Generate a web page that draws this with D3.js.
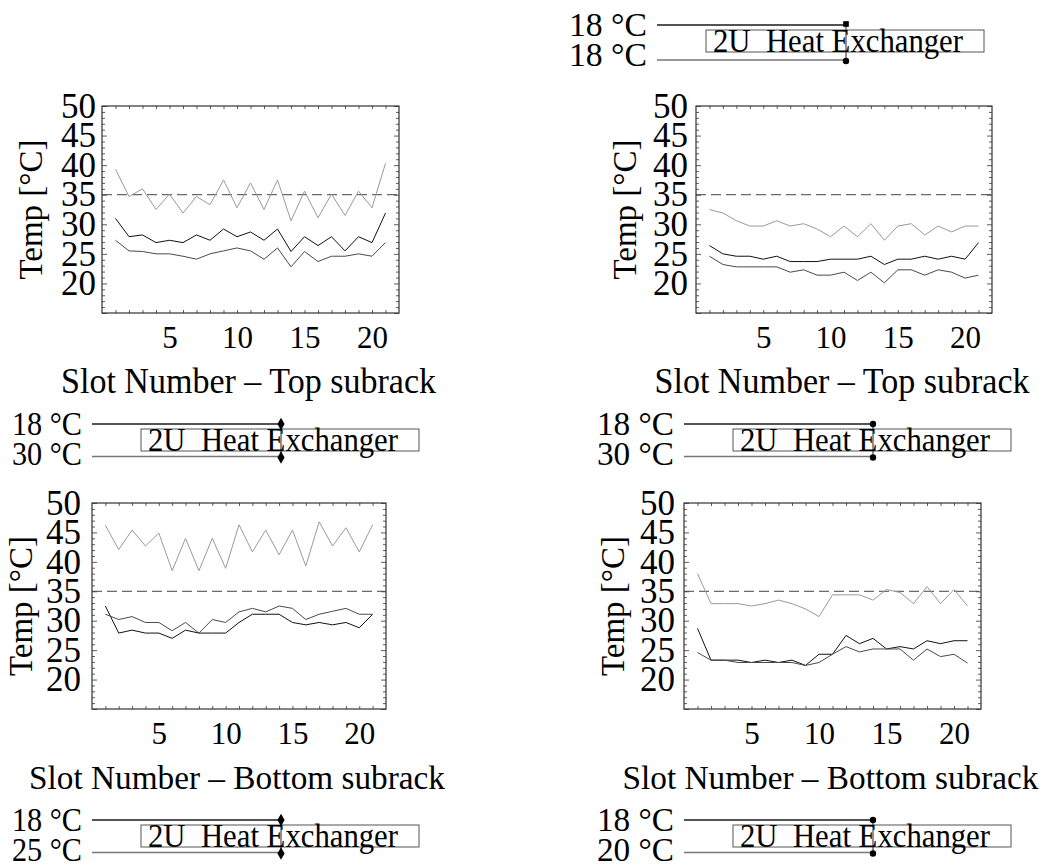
<!DOCTYPE html>
<html>
<head>
<meta charset="utf-8">
<script src="https://cdn.jsdelivr.net/npm/d3@7"></script>
<style>
  html, body { margin: 0; padding: 0; background: #fff; }
  svg { display: block; }
  text { font-family: "Liberation Serif", "DejaVu Serif", serif; fill: #000; }
</style>
</head>
<body>
<div id="chart"></div>
<script>
// slot numbers and axis ticks
const slots = d3.range(1, 22);
const yTickLabels = [20, 25, 30, 35, 40, 45, 50];
const xTickLabels = [5, 10, 15, 20];
const limitTemp = 35;

// top subrack, 18/30 °C
const tlGray  = [39.3, 34.7, 36.0, 32.5, 35.1, 31.9, 34.7, 33.3, 37.5, 32.8, 37.0, 32.5, 37.5, 30.6, 35.6, 31.1, 35.1, 31.5, 35.6, 32.8, 40.3];
const tlBlack = [31.0, 27.9, 28.2, 26.9, 27.3, 26.9, 28.2, 27.3, 29.2, 27.9, 28.7, 27.3, 29.2, 25.4, 27.9, 26.4, 27.9, 25.5, 27.9, 26.9, 31.9];
const tlDark  = [27.3, 25.5, 25.4, 25.0, 25.0, 24.6, 24.1, 25.0, 25.5, 26.0, 25.5, 24.1, 26.0, 22.8, 25.4, 23.7, 24.6, 24.6, 25.0, 24.6, 26.9];

// top subrack, 18/18 °C
const trGray  = [32.5, 31.9, 30.6, 29.7, 29.7, 30.6, 29.7, 30.1, 29.2, 27.9, 29.7, 27.9, 30.1, 27.3, 29.7, 30.1, 28.2, 29.7, 28.7, 29.7, 29.7];
const trBlack = [26.4, 25.0, 24.6, 24.6, 24.1, 24.6, 23.7, 23.7, 23.7, 24.1, 24.1, 24.1, 24.6, 23.2, 24.1, 24.1, 24.6, 24.1, 24.6, 24.1, 26.9];
const trDark  = [24.6, 23.2, 22.8, 22.8, 22.8, 22.8, 21.9, 22.3, 21.4, 21.4, 21.9, 20.5, 21.9, 20.1, 22.3, 22.3, 21.4, 22.3, 21.9, 20.9, 21.4];

// bottom subrack, 18/30 °C
const blGray  = [46.2, 42.1, 45.4, 42.7, 44.9, 38.5, 44.0, 38.5, 44.0, 38.9, 46.3, 41.7, 45.4, 41.2, 45.4, 39.3, 46.8, 42.7, 45.8, 41.7, 46.3];
const blBlack = [32.5, 27.9, 28.4, 27.9, 27.9, 27.0, 28.4, 27.9, 27.9, 27.9, 29.7, 31.1, 31.1, 31.1, 29.7, 29.3, 29.7, 29.3, 29.7, 28.8, 31.1];
const blDark  = [31.1, 30.2, 30.7, 29.7, 29.7, 28.3, 29.7, 27.9, 30.2, 29.7, 31.5, 32.1, 31.5, 32.5, 32.1, 30.2, 31.1, 31.6, 32.1, 31.1, 31.1];

// bottom subrack, 18/30 °C (right)
const brGray  = [38.0, 32.9, 32.9, 32.9, 32.5, 32.9, 33.5, 32.9, 32.0, 30.7, 34.4, 34.4, 34.4, 33.5, 35.3, 34.8, 32.9, 35.8, 32.9, 35.3, 32.5];
const brBlack = [28.7, 23.3, 23.3, 23.3, 22.9, 23.3, 22.9, 23.3, 22.4, 24.3, 24.3, 27.5, 26.1, 27.0, 25.2, 25.6, 25.2, 26.6, 26.1, 26.6, 26.6];
const brDark  = [24.6, 23.3, 23.3, 22.9, 22.9, 22.9, 22.9, 22.9, 22.4, 22.9, 24.3, 25.6, 24.7, 25.2, 25.2, 25.2, 23.3, 25.2, 23.9, 24.3, 22.8];

// heat exchanger inlet temperatures
const hxTopTemps    = ['18 °C', '18 °C', '18 °C', '18 °C', '18 °C'];
const hxBottomTemps = ['18 °C', '30 °C', '30 °C', '25 °C', '20 °C'];
const hxLabel = '2U  Heat Exchanger';

const seriesColors = ['#9a9a9a', '#111111', '#4a4a4a'];

const W = 1053, H = 867;
const svg = d3.select('#chart').append('svg')
    .attr('width', W)
    .attr('height', H);

const panels = [
    { left: 102, right: 399, top: 106, bottom: 313, pad: 6,  xLabel: 'Slot Number – Top subrack',    labelLen: 375, labelSize: 36, series: [tlGray, tlBlack, tlDark] },
    { left: 696, right: 992, top: 106, bottom: 313, pad: 8,  xLabel: 'Slot Number – Top subrack',    labelLen: 375, labelSize: 36, series: [trGray, trBlack, trDark] },
    { left: 92,  right: 386, top: 503, bottom: 709, pad: 11, xLabel: 'Slot Number – Bottom subrack', labelLen: 416, labelSize: 34, series: [blGray, blBlack, blDark] },
    { left: 684, right: 981, top: 503, bottom: 709, pad: 9,  xLabel: 'Slot Number – Bottom subrack', labelLen: 416, labelSize: 34, series: [brGray, brBlack, brDark] }
];

panels.forEach(p => drawPanel(p));

function drawPanel(p) {
    const x = d3.scaleLinear().domain([0, 22]).range([p.left, p.right]);
    const y = d3.scaleLinear().domain([15, 50]).range([p.bottom, p.top]);
    const g = svg.append('g');

    const yMinor = d3.range(15, 51);
    const tickLen = d => (d % 5 === 0 ? 5 : 3);

    // left axis with labels
    const gl = g.append('g')
        .attr('transform', `translate(${p.left},0)`)
        .call(d3.axisLeft(y).tickValues(yMinor).tickSizeInner(-3).tickSizeOuter(0)
            .tickPadding(p.pad)
            .tickFormat(d => (yTickLabels.includes(d) ? d : '')));
    gl.selectAll('line').attr('x2', d => tickLen(d));

    // right axis (ticks only)
    const gr = g.append('g')
        .attr('transform', `translate(${p.right},0)`)
        .call(d3.axisRight(y).tickValues(yMinor).tickSizeInner(-3).tickSizeOuter(0).tickFormat(''));
    gr.selectAll('line').attr('x2', d => -tickLen(d));

    // bottom axis with labels
    g.append('g')
        .attr('class', 'xaxis')
        .attr('transform', `translate(0,${p.bottom})`)
        .call(d3.axisBottom(x).tickValues(slots).tickSizeInner(-3).tickSizeOuter(0)
            .tickPadding(13)
            .tickFormat(d => (xTickLabels.includes(d) ? d : '')));

    // top axis (ticks only)
    g.append('g')
        .attr('transform', `translate(0,${p.top})`)
        .call(d3.axisTop(x).tickValues(slots).tickSizeInner(-3).tickSizeOuter(0).tickFormat(''));

    g.selectAll('.domain').remove();
    g.selectAll('.tick line').attr('stroke', '#333').attr('stroke-width', 0.8);
    g.selectAll('.tick text')
        .attr('fill', '#000')
        .style('font-family', '"Liberation Serif", serif')
        .style('font-size', '35px');
    g.selectAll('.xaxis .tick text').style('font-size', '31px');

    // frame
    g.append('rect')
        .attr('x', p.left).attr('y', p.top)
        .attr('width', p.right - p.left).attr('height', p.bottom - p.top)
        .attr('fill', 'none').attr('stroke', '#333').attr('stroke-width', 1.2);

    // 35 °C limit
    g.append('line')
        .attr('x1', p.left).attr('x2', p.right)
        .attr('y1', y(limitTemp)).attr('y2', y(limitTemp))
        .attr('stroke', '#444').attr('stroke-width', 1)
        .attr('stroke-dasharray', '10,5');

    const line = d3.line()
        .x((d, i) => x(slots[i]))
        .y(d => y(d));

    g.selectAll('path.series')
        .data(p.series)
        .enter()
        .append('path')
        .attr('class', 'series')
        .attr('d', line)
        .attr('fill', 'none')
        .attr('stroke', (d, i) => seriesColors[i])
        .attr('stroke-width', 1);

    // axis titles
    const cy = (p.top + p.bottom) / 2;
    const tx = p.left - 60;
    g.append('text')
        .attr('x', tx).attr('y', cy)
        .attr('transform', `rotate(-90,${tx},${cy})`)
        .attr('text-anchor', 'middle')
        .style('font-size', '33px')
        .text('Temp [°C]');

    g.append('text')
        .attr('x', (p.left + p.right) / 2 - 2)
        .attr('y', p.bottom + 80)
        .attr('text-anchor', 'middle')
        .attr('textLength', p.labelLen)
        .attr('lengthAdjust', 'spacingAndGlyphs')
        .style('font-size', p.labelSize + 'px')
        .style('white-space', 'pre')
        .text(p.xLabel);
}

// heat exchanger sketches
const hxLayout = [
    { x0: 657, y0: 25,  gap: 35,   labelW: 78, top: 'square',  bot: 'circle' },
    { x0: 92,  y0: 424, gap: 32.5, labelW: 70, top: 'diamond', bot: 'diamond' },
    { x0: 684, y0: 424, gap: 32.5, labelW: 77, top: 'circle',  bot: 'circle' },
    { x0: 92,  y0: 820, gap: 32.5, labelW: 70, top: 'diamond', bot: 'diamond' },
    { x0: 684, y0: 820, gap: 32.5, labelW: 77, top: 'circle',  bot: 'circle' }
];

const symbolTypes = { square: d3.symbolSquare, circle: d3.symbolCircle, diamond: d3.symbolDiamond };

hxLayout.forEach((h, i) => {
    const g = svg.append('g');
    const lineLen = 189;
    const y1 = h.y0, y2 = h.y0 + h.gap;

    g.append('line')
        .attr('x1', h.x0).attr('x2', h.x0 + lineLen)
        .attr('y1', y1).attr('y2', y1)
        .attr('stroke', '#1a1a1a').attr('stroke-width', 1.3);
    g.append('line')
        .attr('x1', h.x0).attr('x2', h.x0 + lineLen)
        .attr('y1', y2).attr('y2', y2)
        .attr('stroke', '#777').attr('stroke-width', 1.6);

    g.append('rect')
        .attr('x', h.x0 + 49).attr('y', y1 + 5)
        .attr('width', 278).attr('height', 22)
        .attr('fill', 'none').attr('stroke', '#555').attr('stroke-width', 1);

    g.append('line')
        .attr('x1', h.x0 + lineLen).attr('x2', h.x0 + lineLen)
        .attr('y1', y1).attr('y2', y2)
        .attr('stroke', '#222').attr('stroke-width', 1);

    g.append('path')
        .attr('d', d3.symbol().type(symbolTypes[h.top]).size(h.top === 'diamond' ? 45 : 32)())
        .attr('transform', `translate(${h.x0 + lineLen},${y1 - (h.top === 'square' ? 1 : 0)})`)
        .attr('fill', '#000');
    g.append('path')
        .attr('d', d3.symbol().type(symbolTypes[h.bot]).size(h.bot === 'diamond' ? 45 : 32)())
        .attr('transform', `translate(${h.x0 + lineLen},${y2 + 1})`)
        .attr('fill', '#000');

    g.append('text')
        .attr('x', h.x0 + 56).attr('y', y1 + 27)
        .attr('textLength', 250)
        .attr('lengthAdjust', 'spacingAndGlyphs')
        .style('font-size', '33px')
        .style('white-space', 'pre')
        .text(hxLabel);

    g.append('text')
        .attr('x', h.x0 - 10 - h.labelW).attr('y', y1 + 11)
        .attr('textLength', h.labelW)
        .attr('lengthAdjust', 'spacingAndGlyphs')
        .style('font-size', '34px')
        .text(hxTopTemps[i]);
    g.append('text')
        .attr('x', h.x0 - 10 - h.labelW).attr('y', y1 + 41)
        .attr('textLength', h.labelW)
        .attr('lengthAdjust', 'spacingAndGlyphs')
        .style('font-size', '34px')
        .text(hxBottomTemps[i]);
});
</script>
</body>
</html>
